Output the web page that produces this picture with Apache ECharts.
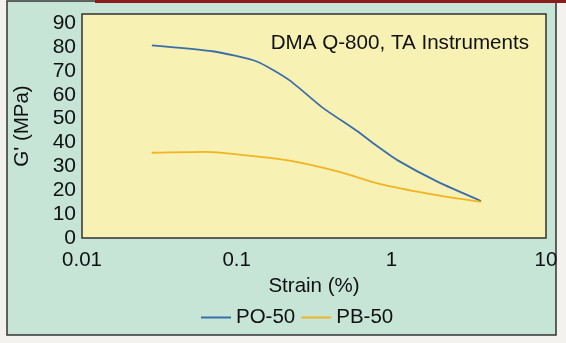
<!DOCTYPE html>
<html>
<head>
<meta charset="utf-8">
<script src="https://cdn.jsdelivr.net/npm/echarts@6/dist/echarts.min.js"></script>
<style>
html,body{margin:0;padding:0;background:#f3f2ee;}
#chart{width:566px;height:343px;}
</style>
</head>
<body>
<div id="chart"></div>
<script>
// Data
const seriesNames = ['PO-50', 'PB-50'];
const po50Strain = [0.0283, 0.07, 0.135, 0.22, 0.359, 0.594, 0.8, 1.1, 2.0, 3.8];
const po50Modulus = [80.7, 78.2, 73.9, 66.0, 54.6, 45.0, 38.7, 32.5, 23.5, 15.5];
const pb50Strain = [0.0283, 0.064, 0.1045, 0.22, 0.462, 0.837, 1.76, 3.81];
const pb50Modulus = [35.7, 36.1, 34.9, 32.4, 27.7, 22.7, 18.5, 15.1];
const yTicks = [0, 10, 20, 30, 40, 50, 60, 70, 80, 90];
const annotation = 'DMA Q-800, TA Instruments';
const xTitle = 'Strain (%)';
const yTitle = "G' (MPa)";

const font = 'Liberation Sans, Arial, sans-serif';
const pair = (xs, ys) => xs.map((x, i) => [x, ys[i]]);

const chart = echarts.init(document.getElementById('chart'), null, {renderer: 'canvas'});
chart.setOption({
  backgroundColor: '#f3f2ee',
  animation: false,
  graphic: [
    {type: 'rect', z: -10, shape: {x: 7, y: 1, width: 549, height: 334},
     style: {fill: '#c6e5d6', stroke: '#333333', lineWidth: 1.5}},
    {type: 'rect', z: -9, shape: {x: 95, y: 0, width: 471, height: 3},
     style: {fill: '#8a1c1c'}}
  ],
  title: {
    text: annotation, right: 32, top: 28,
    textStyle: {fontFamily: font, fontSize: 20.6, fontWeight: 'normal', color: '#111'}
  },
  legend: {
    data: seriesNames, left: 196, top: 302, icon: 'rect',
    itemWidth: 30, itemHeight: 2, itemGap: 6,
    textStyle: {fontFamily: font, fontSize: 20.5, color: '#111', padding: [0, 0, 0, 0]}
  },
  grid: {
    left: 82, right: 20, top: 14, bottom: 105,
    show: true, backgroundColor: '#f7f1b3', borderColor: '#333333', borderWidth: 1.5
  },
  xAxis: {
    type: 'log', logBase: 10, min: 0.01, max: 10,
    name: xTitle, nameLocation: 'middle', nameGap: 33,
    nameTextStyle: {fontFamily: font, fontSize: 20.5, color: '#111'},
    axisLine: {show: false}, axisTick: {show: false}, splitLine: {show: false},
    minorTick: {show: false},
    axisLabel: {fontFamily: font, fontSize: 20.5, color: '#111', margin: 12,
      formatter: v => String(v)}
  },
  yAxis: {
    type: 'value', min: 0, max: 93.8, interval: 10,
    name: yTitle, nameLocation: 'middle', nameGap: 49,
    nameTextStyle: {fontFamily: font, fontSize: 20.5, color: '#111'},
    axisLine: {show: false}, axisTick: {show: false}, splitLine: {show: false},
    axisLabel: {fontFamily: font, fontSize: 21, color: '#111', margin: 6,
      showMaxLabel: false,
      formatter: v => (yTicks.indexOf(v) >= 0 ? String(v) : '')}
  },
  series: [
    {name: seriesNames[0], type: 'line', data: pair(po50Strain, po50Modulus),
     showSymbol: false, smooth: 0.2, color: '#3b6ea8', lineStyle: {width: 1.8}},
    {name: seriesNames[1], type: 'line', data: pair(pb50Strain, pb50Modulus),
     showSymbol: false, smooth: 0.3, color: '#f2b324', lineStyle: {width: 1.8}}
  ]
});
</script>
</body>
</html>
